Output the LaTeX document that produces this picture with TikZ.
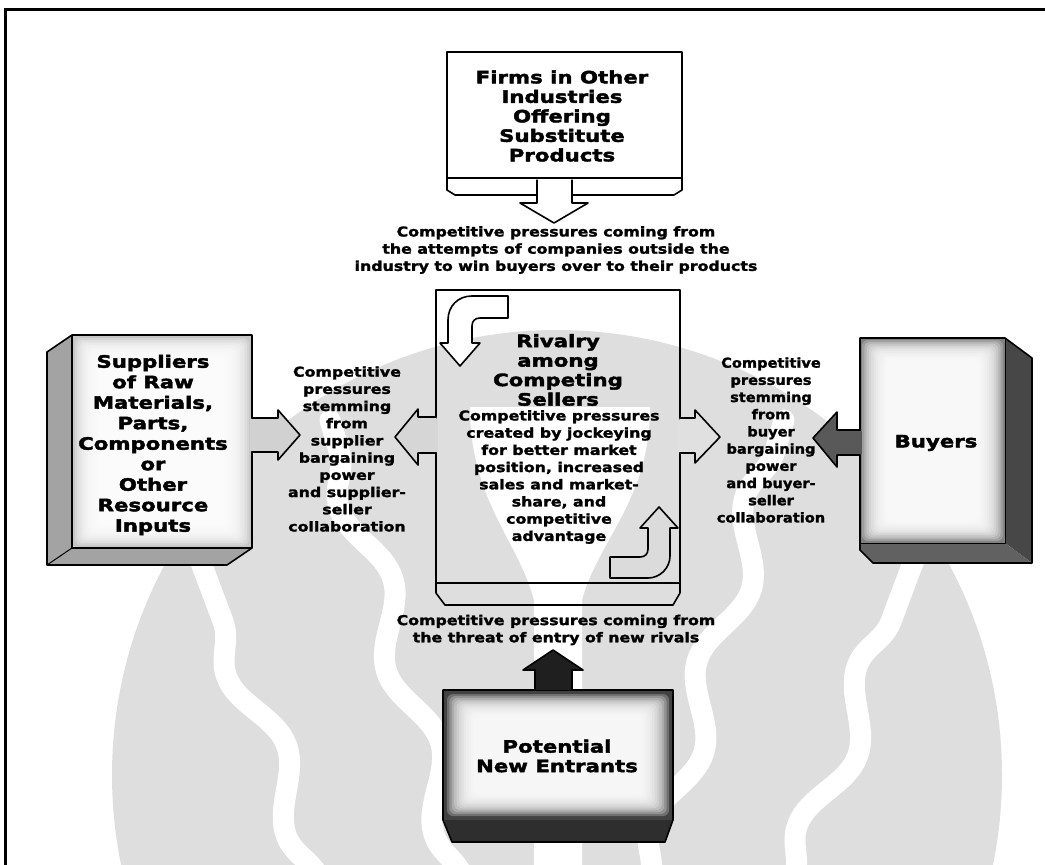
\documentclass[tikz,border=0pt]{standalone}
\usepackage{fontspec}
\setmainfont{DejaVu Sans}
\newfontfamily\capfont[FakeStretch=1.17, FakeBold=1.8]{DejaVu Sans}
\newfontfamily\narrowfont[FakeStretch=1.08, FakeBold=1.8]{DejaVu Sans}
\newfontfamily\headfont[FakeStretch=1.25, FakeBold=2.4]{DejaVu Sans}
\usetikzlibrary{calc,decorations.pathmorphing}

\colorlet{wm}{black!13}
\tikzset{
  outline/.style={draw=black, line width=1.6pt, line join=round},
  caption/.style={font=\capfont\bfseries\fontsize{13.5}{17.2}\selectfont,
                  align=center, inner sep=0pt},
  sidecaption/.style={font=\narrowfont\bfseries\fontsize{13.5}{17.2}\selectfont,
                  align=center, inner sep=0pt},
  heading/.style={font=\headfont\bfseries\fontsize{17}{19.5}\selectfont,
                  align=center, inner sep=0pt},
  wave/.style={white, line width=21pt, line cap=round, decorate,
               decoration={snake, segment length=170pt, amplitude=16pt}},
}

% soft white centre inside a stippled face
\newcommand\softcentre[6]{% x1 y1 x2 y2 inset step
  \foreach \k in {0,...,11}
    \fill[white, opacity=0.24, rounded corners=6pt]
      ({#1+#5+\k*#6},{#2+#5+\k*#6*0.8}) rectangle ({#3-#5-\k*#6},{#4-#5-\k*#6*0.8});
}

\begin{document}
\begin{tikzpicture}[x=1pt, y=-1pt]
\useasboundingbox (0,0) rectangle (1045,865);
\fill[white] (0,0) rectangle (1045,865);

% faint emblem in the background
\begin{scope}
  \clip (8,12) rectangle (1045,865);
  \fill[wm] (557,775) circle (445);
  \draw[wave] (464,880) -- (330,420);
  \draw[wave] (650,880) -- (784,420);
  \draw[wave] (320,880) -- (200,560);
  \draw[wave] (794,880) -- (914,560);
  \fill[white] (470,407) -- (650,407) .. controls (650,500) and (598,540) .. (582,600)
    -- (582,865) -- (534,865) -- (534,600) .. controls (518,540) and (470,500) .. (470,407) -- cycle;
\end{scope}

% page frame
\draw[line width=3pt] (5,865) -- (5,9) -- (1045,9);

% ---------- substitutes (top) ----------
\draw[outline, fill=white] (447,178) -- (447,190) -- (455,195) -- (674,195) -- (682,190) -- (682,178);
\draw[outline, fill=white] (447,52) rectangle (682,178);
\node[heading] (subst) at (562,116)
  {Firms in Other\\Industries\\Offering\\Substitute\\Products};
\fill[white] (538.5,179) rectangle (570.5,197);
\draw[outline, fill=white] (537,179.5) -- (537,203) -- (520,203) -- (554,223)
  -- (588,203) -- (572,203) -- (572,179.5);
\node[caption] (substcap) at (556,250)
  {Competitive pressures coming from\\the attempts of companies outside the\\industry to win buyers over to their products};

% ---------- rivalry (centre) ----------
\draw[outline] (436,583) -- (436,593) -- (445,605) -- (673,605) -- (680,593) -- (680,583);
\draw[outline] (436,290) rectangle (680,583);
% arrows leaving the rivalry box
\fill[black!16] (434,418.5) rectangle (438,451.5);
\draw[outline, fill=black!16] (436.6,417) -- (418,417) -- (418,409) -- (395,437) -- (418,465)
  -- (418,453) -- (436.6,453);
\fill[black!12] (678,419.5) rectangle (682,451.5);
\draw[outline, fill=black!12] (679.4,418) -- (695,418) -- (695,410) -- (720,437) -- (695,463)
  -- (695,453) -- (679.4,453);
% turning arrows inside the box
\draw[outline, fill=white] (508,296) -- (472,296) .. controls (458,296) and (448,306) .. (448,320)
  -- (448,343) -- (440,343) -- (460,366) -- (480,343) -- (472,343) -- (472,326)
  .. controls (472,321) and (475,318) .. (480,318) -- (508,318) -- cycle;
\draw[outline, fill=black!14] (610,557) -- (640,557) .. controls (645,557) and (648,554) .. (648,549)
  -- (648,528) -- (640,528) -- (659,507) -- (678,528) -- (670,528) -- (670,556)
  .. controls (670,568) and (660,578) .. (648,578) -- (610,578) -- cycle;
\node[heading] (rivalry) at (558,370) {Rivalry\\among\\Competing\\Sellers};
\node[caption] (rivalrytext) at (559,477)
  {Competitive pressures\\created by jockeying\\for better market\\position, increased\\sales and market-\\share, and\\competitive\\advantage};

% ---------- suppliers (left) ----------
\fill[black!36] (47,352) -- (72,335) -- (72,548) -- (47,565) -- cycle;
\fill[black!36] (72,548) -- (252,548) -- (227,565) -- (47,565) -- cycle;
\fill[black!22] (72,335) rectangle (252,548);
\softcentre{72}{335}{252}{548}{3}{2.2}
\draw[outline] (72,335) -- (252,335) -- (252,548) -- (227,565) -- (47,565) -- (47,352) -- cycle;
\draw[outline] (72,335) -- (72,548) -- (252,548);
\draw[outline, line width=1pt] (72,548) -- (47,565);
\node[heading, font=\headfont\bfseries\fontsize{17}{20.5}\selectfont] (suppliers) at (153,445)
  {Suppliers\\of Raw\\Materials,\\Parts,\\Components\\or\\Other\\Resource\\Inputs};
\fill[black!18] (250,419) rectangle (254,451);
\draw[outline, fill=black!18] (251.4,418) -- (278,418) -- (278,410) -- (300,435) -- (278,460)
  -- (278,452) -- (251.4,452);
\node[caption] (suppliercap) at (347,449)
  {Competitive\\pressures\\stemming\\from\\supplier\\bargaining\\power\\and supplier-\\seller\\collaboration};

% ---------- buyers (right) ----------
\fill[black!72] (1005,338) -- (1032,358) -- (1032,563) -- (1005,543) -- cycle;
\fill[black!62] (860,543) -- (1005,543) -- (1032,563) -- (873,563) -- (860,550) -- cycle;
\fill[black!50] (860,338) rectangle (1005,543);
\softcentre{860}{338}{1005}{543}{2}{2.3}
\draw[outline] (860,338) -- (1005,338) -- (1032,358) -- (1032,563) -- (873,563) -- (860,550) -- cycle;
\draw[outline, line width=1pt] (1005,338) -- (1005,543) -- (860,543);
\node[heading] (buyers) at (936,443) {Buyers};
\fill[black!65] (858,431) rectangle (862,454);
\draw[outline, fill=black!65] (860.6,430) -- (837,430) -- (837,412) -- (813,438) -- (837,467)
  -- (837,455) -- (860.6,455);
\node[sidecaption] (buyercap) at (771,440)
  {Competitive\\pressures\\stemming\\from\\buyer\\bargaining\\power\\and buyer-\\seller\\collaboration};

% ---------- new entrants (bottom) ----------
\node[caption] (entrycap) at (556,630)
  {Competitive pressures coming from\\the threat of entry of new rivals};
\fill[black!82] (443,818) -- (673,818) -- (665,842) -- (452,842) -- cycle;
\fill[black!74] (443,690) rectangle (673,820);
\softcentre{443}{690}{673}{820}{4}{2.4}
\draw[outline] (443,690) -- (673,690) -- (673,820) -- (665,842) -- (452,842) -- (443,820) -- cycle;
\node[heading] (entrants) at (557,756) {Potential\\New Entrants};
\draw[outline, fill=black!88] (535,690) -- (535,670) -- (523,670) -- (553,650) -- (583,670)
  -- (572,670) -- (572,690);
\end{tikzpicture}
\end{document}
